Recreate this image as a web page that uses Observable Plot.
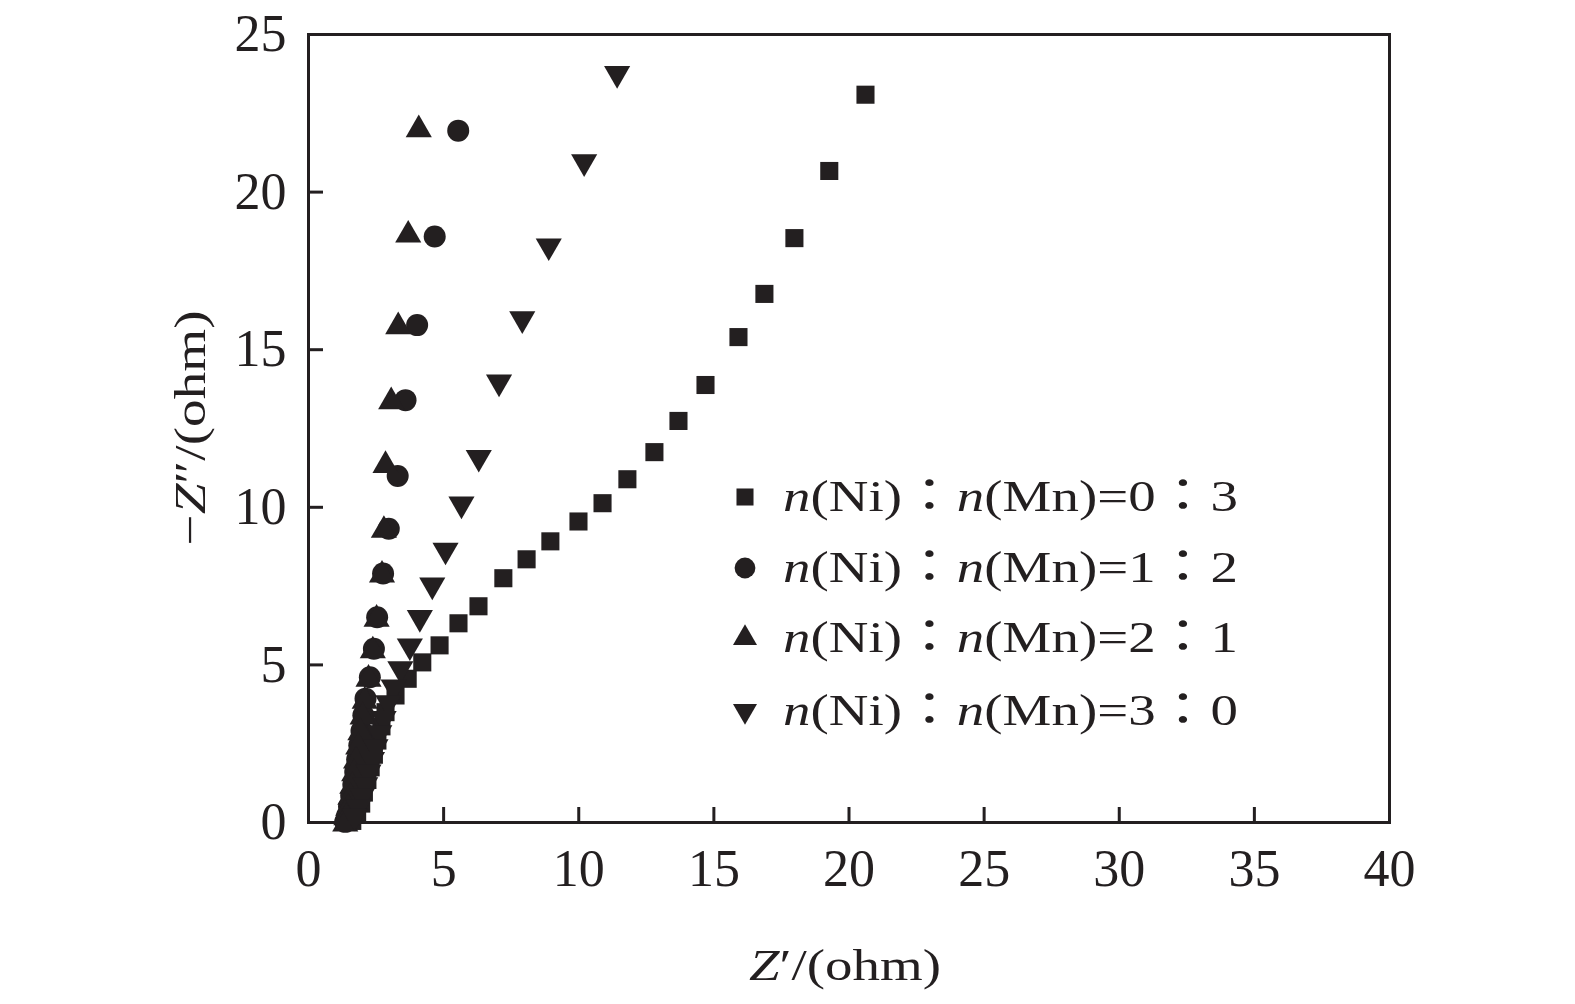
<!DOCTYPE html>
<html><head><meta charset="utf-8">
<script src="https://cdn.jsdelivr.net/npm/d3@7"></script>
<script src="https://cdn.jsdelivr.net/npm/@observablehq/plot@0.6"></script>
<style>
html,body{margin:0;padding:0;background:#fff;}
#chart{width:1575px;height:1004px;}
</style></head><body><div id="chart"></div>
<script>
// ---- data ----
const xTicks = [0, 5, 10, 15, 20, 25, 30, 35, 40];
const yTicks = [0, 5, 10, 15, 20, 25];
const ratioLabels = ["0：3", "1：2", "2：1", "3：0"];

// n(Ni):n(Mn)=0:3  (squares)
const s03_x = [20.61,19.27,17.98,16.87,15.91,14.69,13.69,12.80,11.80,10.88,9.99,8.95,8.07,7.21,6.29,5.55,4.85,4.21,3.67,3.22,2.85,2.70,2.55,2.42,2.30,2.18,2.05,1.95,1.80,1.62];
const s03_y = [23.09,20.67,18.54,16.77,15.40,13.88,12.74,11.75,10.89,10.13,9.55,8.92,8.35,7.75,6.86,6.32,5.62,5.08,4.56,4.03,3.50,3.05,2.60,2.15,1.75,1.35,0.95,0.60,0.28,0.05];
// n(Ni):n(Mn)=1:2  (circles)
const s12_x = [5.54,4.67,4.02,3.59,3.30,2.97,2.76,2.54,2.42,2.27,2.11,2.03,1.96,1.88,1.80,1.73,1.66,1.58,1.50,1.43,1.36];
const s12_y = [21.95,18.59,15.78,13.40,10.99,9.32,7.90,6.51,5.51,4.61,3.93,3.40,2.90,2.45,2.00,1.60,1.20,0.85,0.50,0.22,0.02];
// n(Ni):n(Mn)=2:1  (up triangles)
const s21_x = [4.08,3.69,3.32,3.06,2.85,2.79,2.72,2.52,2.38,2.22,2.08,2.00,1.92,1.84,1.76,1.69,1.62,1.55,1.47,1.40,1.36];
const s21_y = [21.98,18.64,15.73,13.35,11.33,9.27,7.85,6.45,5.45,4.55,3.85,3.35,2.85,2.40,1.95,1.55,1.15,0.80,0.45,0.15,-0.05];
// n(Ni):n(Mn)=3:0  (down triangles)
const s30_x = [11.42,10.20,8.89,7.91,7.05,6.30,5.66,5.07,4.58,4.12,3.75,3.40,3.15,2.95,2.78,2.62,2.48,2.35,2.22,2.10,1.98,1.85,1.70];
const s30_y = [23.76,20.96,18.29,15.98,13.97,11.58,10.10,8.64,7.53,6.50,5.60,4.88,4.30,3.80,3.30,2.85,2.40,2.00,1.60,1.20,0.85,0.50,0.20];

// ---- helpers ----
const INK = "#231f20";
const FONT = '"Liberation Serif", "Times New Roman", serif';
const toPts = (xs, ys) => xs.map((x, i) => ({x, y: ys[i]}));
const downTriangle = {
  draw(context, size) {
    const y = -Math.sqrt(size / (Math.sqrt(3) * 3));
    context.moveTo(0, -y * 2);
    context.lineTo(-Math.sqrt(3) * y, y);
    context.lineTo(Math.sqrt(3) * y, y);
    context.closePath();
  }
};

const W = 1575, H = 1004;
const M = {top: 34, right: 186, bottom: 182, left: 308};
const plotW = W - M.left - M.right, plotH = H - M.top - M.bottom;

const series = [
  {pts: toPts(s03_x, s03_y), symbol: "square", r: 10.2, lsym: d3.symbolSquare, lsize: 290},
  {pts: toPts(s12_x, s12_y), symbol: "circle", r: 11, lsym: d3.symbolCircle, lsize: 340},
  {pts: toPts(s21_x, s21_y), symbol: "triangle", r: 9.7, lsym: d3.symbolTriangle, lsize: 250},
  {pts: toPts(s30_x, s30_y), symbol: downTriangle, r: 9.7, lsym: downTriangle, lsize: 250}
];

const plot = Plot.plot({
  width: W, height: H,
  marginTop: M.top, marginRight: M.right, marginBottom: M.bottom, marginLeft: M.left,
  x: {domain: [0, 40]},
  y: {domain: [0, 25]},
  style: {fontFamily: FONT, color: INK, background: "#fff"},
  marks: [
    Plot.tickX(xTicks.filter(t => t > 0 && t < 40), {x: d => d, stroke: INK, strokeWidth: 3, insetTop: plotH - 15}),
    Plot.tickY(yTicks.filter(t => t > 0 && t < 25), {y: d => d, stroke: INK, strokeWidth: 3, insetRight: plotW - 15}),
    Plot.axisX(xTicks, {anchor: "bottom", tickSize: 0, tickPadding: 27, fontSize: 52, label: null, fill: INK}),
    Plot.axisY(yTicks, {anchor: "left", tickSize: 0, tickPadding: 22, fontSize: 52, label: null, fill: INK}),
    ...series.map(s => Plot.dot(s.pts, {x: "x", y: "y", symbol: s.symbol, r: s.r, fill: INK, stroke: "none"})),
    Plot.frame({stroke: INK, strokeWidth: 3})
  ]
});

const svg = d3.select(plot);

// axis titles (with italic Z)
const xl = svg.append("text")
  .attr("x", 845).attr("y", 980)
  .attr("text-anchor", "middle")
  .attr("font-family", FONT).attr("font-size", 45).attr("fill", INK)
  .attr("textLength", 192).attr("lengthAdjust", "spacingAndGlyphs");
xl.append("tspan").attr("font-style", "italic").text("Z");
xl.append("tspan").text("′/(ohm)");

const yl = svg.append("text")
  .attr("transform", "translate(205,428) rotate(-90)")
  .attr("text-anchor", "middle")
  .attr("font-family", FONT).attr("font-size", 45).attr("fill", INK)
  .attr("textLength", 235).attr("lengthAdjust", "spacingAndGlyphs");
yl.append("tspan").text("−");
yl.append("tspan").attr("font-style", "italic").text("Z");
yl.append("tspan").text("″/(ohm)");

// legend inside the frame
const legendX = 745, textX = 783, rowY = [497, 568, 638, 711];
series.forEach((s, i) => {
  svg.append("path")
    .attr("transform", `translate(${legendX},${rowY[i]})`)
    .attr("d", d3.symbol().type(s.lsym).size(s.lsize)())
    .attr("fill", INK);
  const t = svg.append("text")
    .attr("x", textX).attr("y", rowY[i] + 14)
    .attr("text-anchor", "start")
    .attr("font-family", FONT).attr("font-size", 45).attr("fill", INK)
    .attr("textLength", 455).attr("lengthAdjust", "spacingAndGlyphs");
  const [a, b] = ratioLabels[i].split("：");
  t.append("tspan").attr("font-style", "italic").text("n");
  t.append("tspan").text("(Ni)");
  t.append("tspan").attr("font-family", '"Noto Sans CJK JP"').text("：");
  t.append("tspan").attr("font-style", "italic").text("n");
  t.append("tspan").text("(Mn)=" + a);
  t.append("tspan").attr("font-family", '"Noto Sans CJK JP"').text("：");
  t.append("tspan").text(b);
});

document.getElementById("chart").appendChild(plot);
</script>
</body></html>
